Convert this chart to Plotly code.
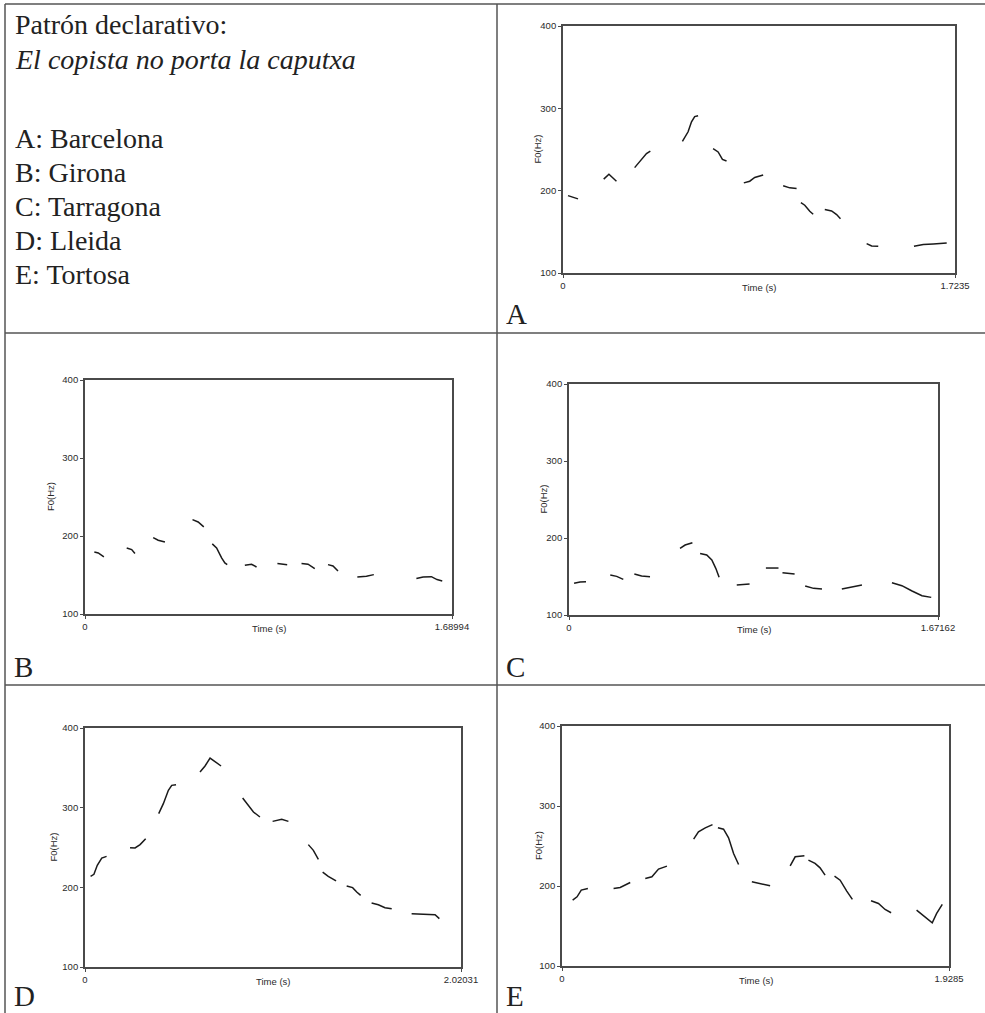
import plotly.graph_objects as go

# ---------------- data (time in s, F0 in Hz), one list per voiced stretch ----------------
A_time = [[0.022, 0.044, 0.066],
          [0.179, 0.202, 0.235],
          [0.315, 0.345, 0.367, 0.384],
          [0.525, 0.550, 0.565, 0.579, 0.594],
          [0.660, 0.682, 0.701, 0.719],
          [0.795, 0.821, 0.843, 0.880],
          [0.968, 0.997, 1.027],
          [1.046, 1.063, 1.085, 1.100],
          [1.151, 1.181, 1.203, 1.220],
          [1.335, 1.357, 1.386],
          [1.543, 1.584, 1.628, 1.687]]
A_f0 = [[194, 192, 190],
        [214, 220, 211.5],
        [228, 238, 245, 248],
        [260, 271.5, 283.6, 290, 291],
        [251, 247, 238, 236],
        [209.5, 211.5, 216, 219],
        [206, 203.4, 202.6],
        [185.5, 182.3, 175, 171.4],
        [177, 175.4, 171, 166],
        [135.7, 132.8, 132.4],
        [132.4, 134.5, 135.3, 136.5]]

B_time = [[0.043, 0.061, 0.087],
          [0.192, 0.215, 0.230],
          [0.314, 0.337, 0.368],
          [0.495, 0.521, 0.547],
          [0.586, 0.606, 0.629, 0.644, 0.655],
          [0.736, 0.767, 0.790],
          [0.886, 0.909, 0.931],
          [0.997, 1.027, 1.058],
          [1.119, 1.142, 1.165],
          [1.254, 1.296, 1.330],
          [1.526, 1.557, 1.595, 1.621, 1.645]]
B_f0 = [[179.6, 178.3, 173.2],
        [184.7, 182.6, 177.5],
        [198, 194.6, 192.4],
        [221, 218, 211.7],
        [189.9, 184.7, 171.9, 165.5, 163.3],
        [162.5, 163.8, 160.3],
        [164.6, 164.2, 163.3],
        [164.6, 163.8, 158.2],
        [163.3, 161.6, 155.2],
        [147.5, 148.4, 150.5],
        [145.4, 147.5, 147.9, 144.1, 142.4]]

C_time = [[0.023, 0.050, 0.077],
          [0.187, 0.216, 0.246],
          [0.296, 0.329, 0.367],
          [0.503, 0.526, 0.559],
          [0.594, 0.624, 0.647, 0.665, 0.680],
          [0.760, 0.790, 0.818],
          [0.892, 0.920, 0.949],
          [0.967, 0.994, 1.022],
          [1.070, 1.108, 1.146],
          [1.236, 1.282, 1.327],
          [1.463, 1.508, 1.554, 1.599, 1.641]]
C_f0 = [[141.1, 142.9, 143.3],
        [152, 150.2, 146.3],
        [153.2, 150.6, 149.8],
        [186.6, 190.9, 193.9],
        [180, 177.9, 171.4, 160.6, 148.9],
        [139, 139.4, 140.3],
        [161, 161, 161],
        [155, 154.5, 153.2],
        [137.7, 134.6, 133.8],
        [133.8, 136.8, 139],
        [142, 138.1, 131.2, 125.1, 122.9]]

D_time = [[0.030, 0.048, 0.066, 0.090, 0.116],
          [0.242, 0.269, 0.296, 0.326],
          [0.396, 0.421, 0.448, 0.466, 0.489],
          [0.618, 0.645, 0.672, 0.699, 0.731],
          [0.847, 0.878, 0.905, 0.940],
          [1.008, 1.057, 1.093],
          [1.200, 1.227, 1.254],
          [1.277, 1.307, 1.349],
          [1.406, 1.438, 1.460, 1.481],
          [1.540, 1.576, 1.612, 1.648],
          [1.755, 1.818, 1.881, 1.904]]
D_f0 = [[213.8, 216.3, 227.6, 236.8, 238.9],
        [249.8, 249.4, 253.6, 261.1],
        [292.5, 305, 321.8, 328, 328.9],
        [344.8, 352.3, 362.3, 357.3, 352.3],
        [312.1, 302.1, 294.6, 288.3],
        [282.8, 285.4, 282.8],
        [253.6, 246.4, 235.1],
        [219.2, 213.8, 208],
        [201.7, 199.6, 194.1, 190],
        [180.3, 178.2, 174.5, 173.2],
        [166.9, 166.5, 165.7, 160.7]]

E_time = [[0.053, 0.075, 0.096, 0.129],
          [0.257, 0.290, 0.340],
          [0.415, 0.448, 0.481, 0.523],
          [0.656, 0.680, 0.714, 0.750],
          [0.777, 0.805, 0.830, 0.855, 0.880],
          [0.946, 0.987, 1.037],
          [1.137, 1.162, 1.208],
          [1.228, 1.261, 1.286, 1.311],
          [1.358, 1.386, 1.419, 1.447],
          [1.540, 1.577, 1.610, 1.640],
          [1.767, 1.809, 1.845, 1.867, 1.895]]
E_f0 = [[182.4, 186.5, 194.9, 196.9],
        [196.9, 198.2, 204.4],
        [209.4, 211.5, 221.1, 224.8],
        [258.5, 267.7, 272.7, 276.8],
        [272.7, 271, 260.2, 240.6, 226.9],
        [205.3, 203.2, 200.3],
        [225.2, 236.5, 237.7],
        [232.3, 228.2, 222.7, 213.6],
        [212.3, 207.3, 193.6, 183.2],
        [181.6, 178.2, 170.7, 166.6],
        [169.9, 161.6, 154.1, 165.7, 177]]

durations = [1.7235, 1.68994, 1.67162, 2.02031, 1.9285]
duration_labels = ["1.7235", "1.68994", "1.67162", "2.02031", "1.9285"]
panel_letters = ["A", "B", "C", "D", "E"]
f0_ticks = [100, 200, 300, 400]

title_lines = ["Patrón declarativo:", "<i>El copista no porta la caputxa</i>"]
city_lines = ["A: Barcelona", "B: Girona", "C: Tarragona", "D: Lleida", "E: Tortosa"]

# ---------------- layout helpers ----------------
W, H = 985, 1013
def px(x):
    return x / W
def py(y):
    return 1 - y / H

# plot-area boxes in pixels (left, right, top, bottom) and y-title offsets
boxes = [(563, 955, 26, 273), (85, 452, 380, 614), (569, 938, 384, 615),
         (85, 461, 728, 967), (562, 949, 726, 966)]
ytitle_off = [26, 35, 26, 32, 24]
letter_pos = [(505, 314), (13, 667), (505, 667), (13, 996), (505, 996)]

times = [A_time, B_time, C_time, D_time, E_time]
f0s = [A_f0, B_f0, C_f0, D_f0, E_f0]

fig = go.Figure()
TICKFONT = dict(family="Arial, Liberation Sans, sans-serif", size=9.5, color="#2a2a2a")
AXCOL = "#4a4a4a"

annotations = []
for i in range(5):
    sx = "" if i == 0 else str(i + 1)
    xs, ys = [], []
    for seg_t, seg_f in zip(times[i], f0s[i]):
        xs += seg_t + [None]
        ys += seg_f + [None]
    fig.add_trace(go.Scatter(x=xs, y=ys, mode="lines", xaxis="x" + sx, yaxis="y" + sx,
                             line=dict(color="#1a1a1a", width=1.5), connectgaps=False,
                             showlegend=False, hoverinfo="skip"))
    l, r, t, b = boxes[i]
    fig.layout["xaxis" + sx] = dict(domain=[px(l), px(r)], anchor="y" + sx,
                                    range=[0, durations[i]], tickvals=[0, durations[i]],
                                    ticktext=["0", duration_labels[i]], ticks="outside",
                                    ticklen=3, tickcolor=AXCOL, showgrid=False, zeroline=False,
                                    showline=True, mirror=True, linecolor=AXCOL, linewidth=1.8,
                                    tickfont=TICKFONT, fixedrange=True)
    fig.layout["yaxis" + sx] = dict(domain=[py(b), py(t)], anchor="x" + sx,
                                    range=[100, 400], tickvals=f0_ticks, ticks="outside",
                                    ticklen=3, tickcolor=AXCOL, showgrid=False, zeroline=False,
                                    showline=True, mirror=True, linecolor=AXCOL, linewidth=1.8,
                                    tickfont=TICKFONT, fixedrange=True)
    annotations.append(dict(text="Time (s)", x=px((l + r) / 2), y=py(b + 14), xref="paper",
                            yref="paper", showarrow=False, xanchor="center", yanchor="middle",
                            font=TICKFONT))
    annotations.append(dict(text="F0(Hz)", x=px(l - ytitle_off[i]), y=py((t + b) / 2),
                            xref="paper", yref="paper", showarrow=False, textangle=-90,
                            xanchor="center", yanchor="middle", font=TICKFONT))
    lx, ly = letter_pos[i]
    annotations.append(dict(text=panel_letters[i], x=px(lx), y=py(ly), xref="paper",
                            yref="paper", showarrow=False, xanchor="left", yanchor="middle",
                            borderpad=0,
                            font=dict(family="Liberation Serif, Times New Roman, serif",
                                      size=29, color="#222")))

SERIF = dict(family="Liberation Serif, Times New Roman, serif", size=28, color="#222")
for txt, yc in zip(title_lines, [24, 59]):
    annotations.append(dict(text=txt, x=px(13), y=py(yc), xref="paper", yref="paper",
                            showarrow=False, xanchor="left", yanchor="middle", font=SERIF))
for txt, yc in zip(city_lines, [138.5, 172.5, 206.5, 240.5, 274.5]):
    annotations.append(dict(text=txt, x=px(13), y=py(yc), xref="paper", yref="paper",
                            showarrow=False, xanchor="left", yanchor="middle", font=SERIF))

LINE = dict(color="#555", width=1.5)
shapes = [
    dict(type="line", xref="paper", yref="paper", x0=px(5), x1=1, y0=py(4), y1=py(4), line=LINE),
    dict(type="line", xref="paper", yref="paper", x0=px(5), x1=1, y0=py(333), y1=py(333), line=LINE),
    dict(type="line", xref="paper", yref="paper", x0=px(5), x1=1, y0=py(685), y1=py(685), line=LINE),
    dict(type="line", xref="paper", yref="paper", x0=px(5), x1=px(5), y0=py(4), y1=0, line=LINE),
    dict(type="line", xref="paper", yref="paper", x0=px(497), x1=px(497), y0=py(4), y1=0, line=LINE),
]

fig.update_layout(width=W, height=H,
                  margin=dict(l=0, r=0, t=0, b=0, pad=0, autoexpand=False), autosize=False,
                  paper_bgcolor="white", plot_bgcolor="white", showlegend=False,
                  annotations=annotations, shapes=shapes)

fig.write_html("out.html", config={"displayModeBar": False},
               post_script="document.body.style.margin='0';document.body.style.overflow='hidden';")
